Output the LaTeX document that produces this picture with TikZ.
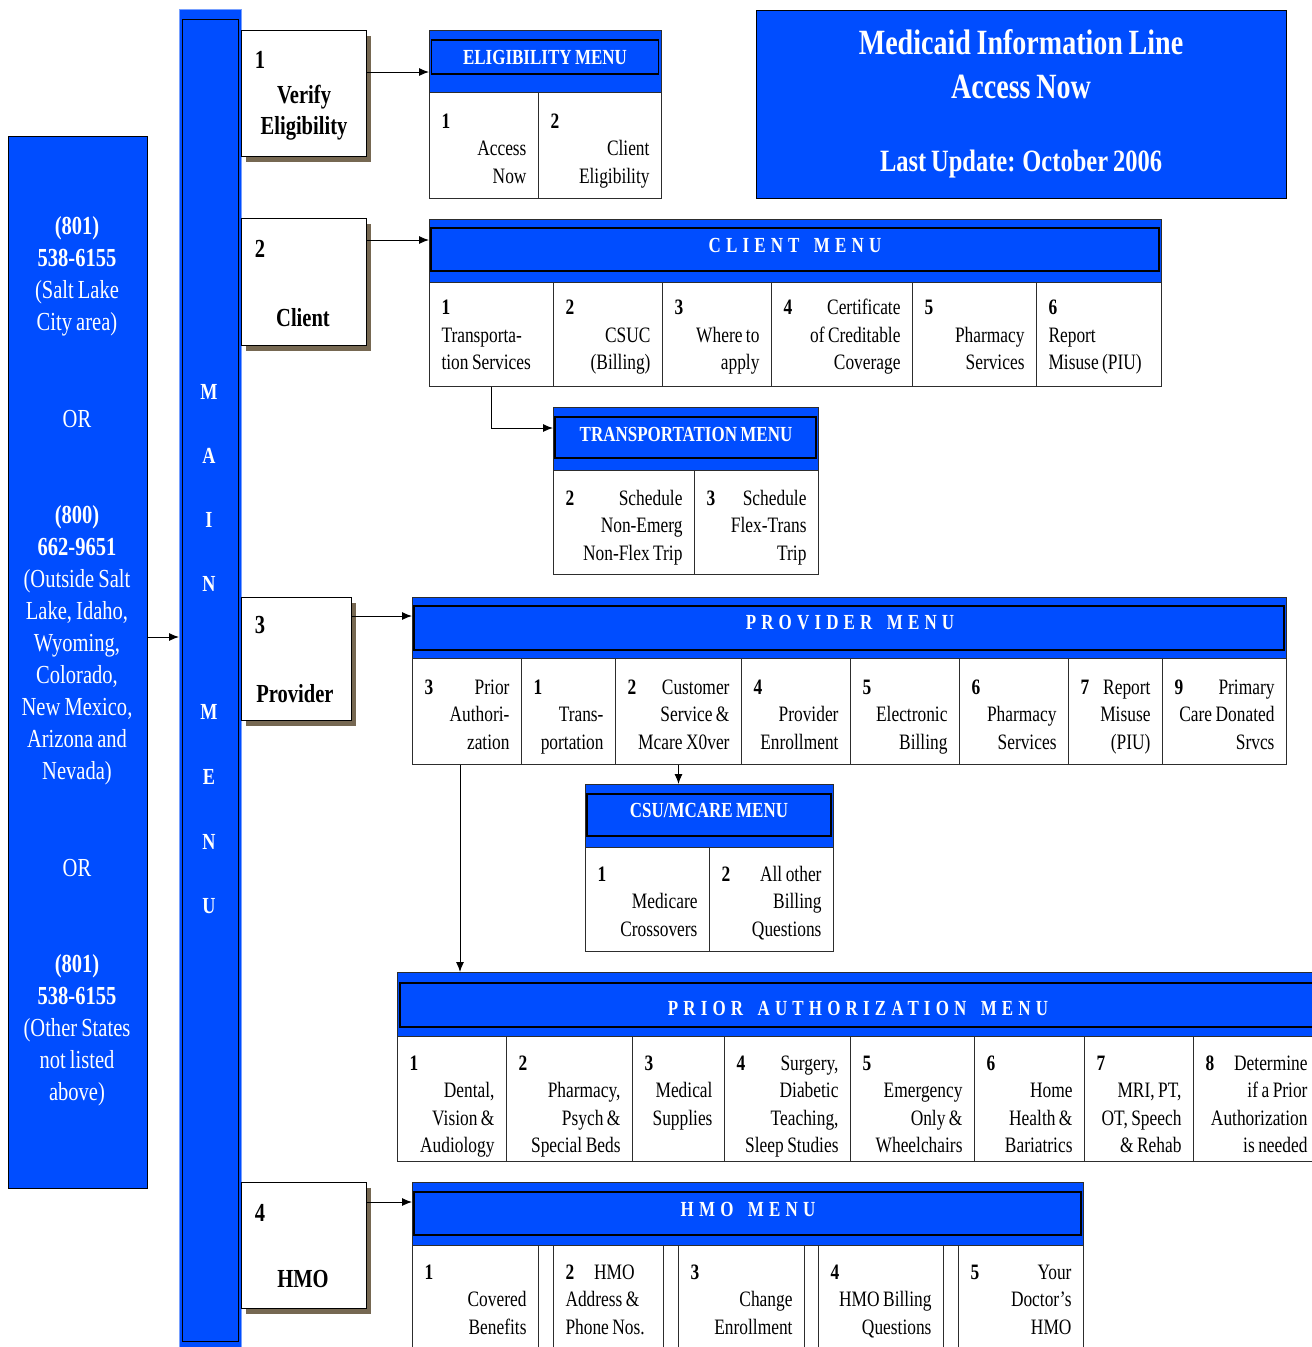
\documentclass[tikz,border=0pt]{standalone}
\usepackage{fontspec}
\setmainfont{Liberation Serif}[FakeStretch=0.79,WordSpace=0.8]
\newfontfamily\spfont{Liberation Serif}[FakeStretch=0.79,LetterSpace=24]
\usetikzlibrary{arrows.meta,shadows}
\definecolor{mblue}{RGB}{0,77,255}
\definecolor{shadowc}{RGB}{118,104,82}
\definecolor{lineg}{RGB}{45,45,45}
\definecolor{baredge}{RGB}{120,160,255}
\newcommand\numfill{\hskip 0pt plus 1filll\relax}
\newcommand\wgap{\hspace{5pt} }
\newcommand\cellfont{\fontsize{22}{27.5}\selectfont}
\newcommand\hdrfont{\bfseries\fontsize{21.5}{24}\selectfont}
\newcommand\sphdrfont{\spfont\bfseries\fontsize{21.5}{24}\selectfont}
\newcommand\optfont{\bfseries\fontsize{26}{31}\selectfont}
\newcommand\phfont{\fontsize{26}{32}\selectfont}
\newcommand\sth{27pt}
\newcommand\mcell[6][cellR]{%
  \pgfmathsetmacro\mtw{#4-24}%
  \node[#1, minimum width=#4pt, minimum height=#5pt, text width=\mtw pt] (#2) at (#3) {\rule{0pt}{\sth}#6\rule[-7pt]{0pt}{7pt}};}
\tikzset{
 menuhead/.style={fill=mblue, draw=lineg, line width=0.8pt, anchor=north west, inner sep=0pt},
 hdrin/.style={draw=black, line width=1.5pt, inner sep=0pt},
 hdrtext/.style={text=white, font=\hdrfont, inner sep=0pt},
 sphdrtext/.style={text=white, font=\sphdrfont, inner sep=0pt},
 cellR/.style={draw=lineg, line width=1pt, fill=white, anchor=north west, inner xsep=12pt, inner ysep=0pt, align=flush right, font=\cellfont},
 cellL/.style={cellR, align=flush left},
 spacer/.style={draw=lineg, line width=1pt, fill=white, anchor=north west, inner sep=0pt},
 arr/.style={-{Latex[length=10pt,width=8pt]}, line width=1pt, draw=black},
 mainopt/.style={draw=black, line width=1pt, fill=white, anchor=north west, inner sep=0pt, drop shadow={shadow xshift=4pt, shadow yshift=-5pt, opacity=1, fill=shadowc}},
 optnum/.style={font=\optfont, inner sep=0pt},
 optlab/.style={font=\optfont, inner sep=0pt, align=center},
 bluebox/.style={fill=mblue, draw=black, line width=1pt, anchor=north west, inner sep=0pt},
 whitetext/.style={text=white, inner sep=0pt, align=center},
}
\begin{document}
\begin{tikzpicture}[x=1pt,y=-1pt]
\useasboundingbox (0,0) rectangle (1312,1347);
\fill[white] (0,0) rectangle (1312,1347);
\clip (0,0) rectangle (1312,1347);

% ---------- phone box ----------
\node[bluebox, minimum width=139pt, minimum height=1052pt] (phone) at (8,136) {};
\node[whitetext, font=\phfont] (ph1) at (77,276) {\textbf{(801)}\\\textbf{538-6155}\\(Salt Lake\\City area)};
\node[whitetext, font=\phfont] (or1) at (77,419) {OR};
\node[whitetext, font=\phfont] (ph2) at (77,645.5) {\textbf{(800)}\\\textbf{662-9651}\\(Outside Salt\\Lake, Idaho,\\Wyoming,\\Colorado,\\New Mexico,\\Arizona and\\Nevada)};
\node[whitetext, font=\phfont] (or2) at (77,868) {OR};
\node[whitetext, font=\phfont] (ph3) at (77,1030.5) {\textbf{(801)}\\\textbf{538-6155}\\(Other States\\not listed\\above)};

% ---------- main menu bar ----------
\node[fill=mblue, draw=baredge, line width=1pt, anchor=north west, minimum width=62pt, minimum height=1345pt, inner sep=0pt] (mainbar) at (179,9) {};
\node[draw=black, line width=1.3pt, minimum width=56pt, minimum height=1322pt, inner sep=0pt, anchor=north west] (mainin) at (182,19) {};
\foreach \l/\yy [count=\i] in {M/392,A/456,I/520,N/584,M/712,E/777,N/842,U/906}
  \node[whitetext, font=\bfseries\fontsize{23}{23}\selectfont] (ml\i) at (209,\yy) {\l};

\coordinate (ya) at (0,637);
\draw[arr] (phone.east |- ya) -- (mainbar.west |- ya);

% ---------- title ----------
\node[bluebox, minimum width=530pt, minimum height=188pt] (title) at (756,10) {};
\node[whitetext, font=\bfseries\fontsize{35.5}{44}\selectfont] (title1) at (1021,64) {Medicaid Information Line\\Access Now};
\node[whitetext, font=\bfseries\fontsize{31}{31}\selectfont] (title2) at (1021,164) {Last Update: October 2006};

% ---------- main options ----------
\node[mainopt, minimum width=125pt, minimum height=126pt] (opt1) at (241,30) {};
\node[optnum] (opt1n) at (260,60) {1};
\node[optlab] (opt1l) at (304,113) {Verify\\Eligibility};
\node[mainopt, minimum width=125pt, minimum height=127pt] (opt2) at (241,218) {};
\node[optnum] (opt2n) at (260,249) {2};
\node[optlab] (opt2l) at (303,318) {Client};
\node[mainopt, minimum width=110pt, minimum height=123pt] (opt3) at (241,597) {};
\node[optnum] (opt3n) at (260,625) {3};
\node[optlab] (opt3l) at (295,694) {Provider};
\node[mainopt, minimum width=125pt, minimum height=126pt] (opt4) at (241,1182) {};
\node[optnum] (opt4n) at (260,1213) {4};
\node[optlab] (opt4l) at (303,1279) {HMO};

% ---------- eligibility menu ----------
\renewcommand\sth{27pt}
\node[menuhead, minimum width=232pt, minimum height=62pt] (eligH) at (429,30) {};
\node[hdrin, minimum width=227pt, minimum height=34pt] (eligIn) at (545,57) {};
\node[hdrtext] (eligT) at (545,57) {ELIGIBILITY MENU};
\mcell{e1}{429,92}{109}{106}{\textbf{1}\numfill\mbox{}\\Access\\Now}
\mcell{e2}{538,92}{123}{106}{\textbf{2}\numfill\mbox{}\\Client\\Eligibility}

% ---------- client menu ----------
\renewcommand\sth{22pt}
\node[menuhead, minimum width=732pt, minimum height=63pt] (clientH) at (429,219) {};
\node[hdrin, minimum width=728pt, minimum height=43pt] (clientIn) at (795,249.5) {};
\node[sphdrtext] (clientT) at (795,245) {CLIENT\wgap MENU};
\mcell[cellL]{c1}{429,282}{124}{104}{\textbf{1}\\Transporta-\\tion Services}
\mcell{c2}{553,282}{109}{104}{\textbf{2}\numfill\mbox{}\\CSUC\\(Billing)}
\mcell{c3}{662,282}{109}{104}{\textbf{3}\numfill\mbox{}\\Where to\\apply}
\mcell{c4}{771,282}{141}{104}{\textbf{4}\numfill Certificate\\of Creditable\\Coverage}
\mcell{c5}{912,282}{124}{104}{\textbf{5}\numfill\mbox{}\\Pharmacy\\Services}
\mcell[cellL]{c6}{1036,282}{125}{104}{\textbf{6}\\Report\\Misuse (PIU)}

% ---------- transportation menu ----------
\renewcommand\sth{27pt}
\node[menuhead, minimum width=265pt, minimum height=63pt] (transH) at (553,407) {};
\node[hdrin, minimum width=261pt, minimum height=41pt] (transIn) at (685.5,437.5) {};
\node[hdrtext] (transT) at (686,434) {TRANSPORTATION MENU};
\mcell{t1}{553,470}{141}{104}{\textbf{2}\numfill Schedule\\Non-Emerg\\Non-Flex Trip}
\mcell{t2}{694,470}{124}{104}{\textbf{3}\numfill Schedule\\Flex-Trans\\Trip}

% ---------- provider menu ----------
\renewcommand\sth{27pt}
\node[menuhead, minimum width=874pt, minimum height=61pt] (provH) at (412,597) {};
\node[hdrin, minimum width=870pt, minimum height=44pt] (provIn) at (849,628) {};
\node[sphdrtext] (provT) at (850,623) {PROVIDER\wgap MENU};
\mcell{p1}{412,658}{109}{106}{\textbf{3}\numfill Prior\\Authori-\\zation}
\mcell{p2}{521,658}{94}{106}{\textbf{1}\numfill\mbox{}\\Trans-\\portation}
\mcell{p3}{615,658}{126}{106}{\textbf{2}\numfill Customer\\Service \&\\Mcare X0ver}
\mcell{p4}{741,658}{109}{106}{\textbf{4}\numfill\mbox{}\\Provider\\Enrollment}
\mcell{p5}{850,658}{109}{106}{\textbf{5}\numfill\mbox{}\\Electronic\\Billing}
\mcell{p6}{959,658}{109}{106}{\textbf{6}\numfill\mbox{}\\Pharmacy\\Services}
\mcell{p7}{1068,658}{94}{106}{\textbf{7}\numfill Report\\Misuse\\(PIU)}
\mcell{p8}{1162,658}{124}{106}{\textbf{9}\numfill Primary\\Care Donated\\Srvcs}

% ---------- CSU/MCARE menu ----------
\renewcommand\sth{25pt}
\node[menuhead, minimum width=248pt, minimum height=63pt] (csuH) at (585,784) {};
\node[hdrin, minimum width=244pt, minimum height=42pt] (csuIn) at (709,815) {};
\node[hdrtext] (csuT) at (709,810) {CSU/MCARE MENU};
\mcell{s1}{585,847}{124}{104}{\textbf{1}\numfill\mbox{}\\Medicare\\Crossovers}
\mcell{s2}{709,847}{124}{104}{\textbf{2}\numfill All other\\Billing\\Questions}

% ---------- prior authorization menu ----------
\renewcommand\sth{32pt}
\node[menuhead, minimum width=922pt, minimum height=64pt] (paH) at (397,972) {};
\node[hdrin, minimum width=919pt, minimum height=44pt] (paIn) at (859.5,1005) {};
\node[sphdrtext] (paT) at (858,1008) {PRIOR\wgap AUTHORIZATION\wgap MENU};
\mcell{a1}{397,1036}{109}{125}{\textbf{1}\numfill\mbox{}\\Dental,\\Vision \&\\Audiology}
\mcell{a2}{506,1036}{126}{125}{\textbf{2}\numfill\mbox{}\\Pharmacy,\\Psych \&\\Special Beds}
\mcell{a3}{632,1036}{92}{125}{\textbf{3}\numfill\mbox{}\\Medical\\Supplies\\\mbox{}}
\mcell{a4}{724,1036}{126}{125}{\textbf{4}\numfill Surgery,\\Diabetic\\Teaching,\\Sleep Studies}
\mcell{a5}{850,1036}{124}{125}{\textbf{5}\numfill\mbox{}\\Emergency\\Only \&\\Wheelchairs}
\mcell{a6}{974,1036}{110}{125}{\textbf{6}\numfill\mbox{}\\Home\\Health \&\\Bariatrics}
\mcell{a7}{1084,1036}{109}{125}{\textbf{7}\numfill\mbox{}\\MRI, PT,\\OT, Speech\\\& Rehab}
\mcell{a8}{1193,1036}{126}{125}{\textbf{8}\numfill Determine\\if a Prior\\Authorization\\is needed}

% ---------- HMO menu ----------
\renewcommand\sth{21pt}
\node[menuhead, minimum width=671pt, minimum height=63pt] (hmoH) at (412,1182) {};
\node[hdrin, minimum width=667pt, minimum height=43pt] (hmoIn) at (747.5,1213.5) {};
\node[sphdrtext] (hmoT) at (748,1209) {HMO\wgap MENU};
\mcell{h1}{412,1245}{126}{108}{\textbf{1}\numfill\mbox{}\\Covered\\Benefits}
\node[spacer, minimum width=15pt, minimum height=108pt] (hs1) at (538,1245) {};
\mcell[cellL]{h2}{553,1245}{110}{108}{\textbf{2}\hspace{20pt}HMO\\Address \&\\Phone Nos.}
\node[spacer, minimum width=15pt, minimum height=108pt] (hs2) at (663,1245) {};
\mcell{h3}{678,1245}{126}{108}{\textbf{3}\numfill\mbox{}\\Change\\Enrollment}
\node[spacer, minimum width=14pt, minimum height=108pt] (hs3) at (804,1245) {};
\mcell{h4}{818,1245}{125}{108}{\textbf{4}\numfill\mbox{}\\HMO Billing\\Questions}
\node[spacer, minimum width=15pt, minimum height=108pt] (hs4) at (943,1245) {};
\mcell{h5}{958,1245}{125}{108}{\textbf{5}\numfill Your\\Doctor’s\\HMO}

% ---------- connectors ----------
\coordinate (y1) at (0,72);
\coordinate (y2) at (0,240);
\coordinate (y3) at (0,616);
\coordinate (y4) at (0,1202);
\coordinate (y5) at (0,428);
\draw[arr] (opt1.east |- y1) -- (eligH.west |- y1);
\draw[arr] (opt2.east |- y2) -- (clientH.west |- y2);
\draw[arr] (opt3.east |- y3) -- (provH.west |- y3);
\draw[arr] (opt4.east |- y4) -- (hmoH.west |- y4);
\draw[arr] (c1.south) |- (transH.west |- y5);
\draw[arr] (p3.south) -- (p3.south |- csuH.north);
\draw[arr] ([xshift=-7pt]p1.south) -- ([xshift=-7pt]p1.south |- paH.north);
\end{tikzpicture}
\end{document}
